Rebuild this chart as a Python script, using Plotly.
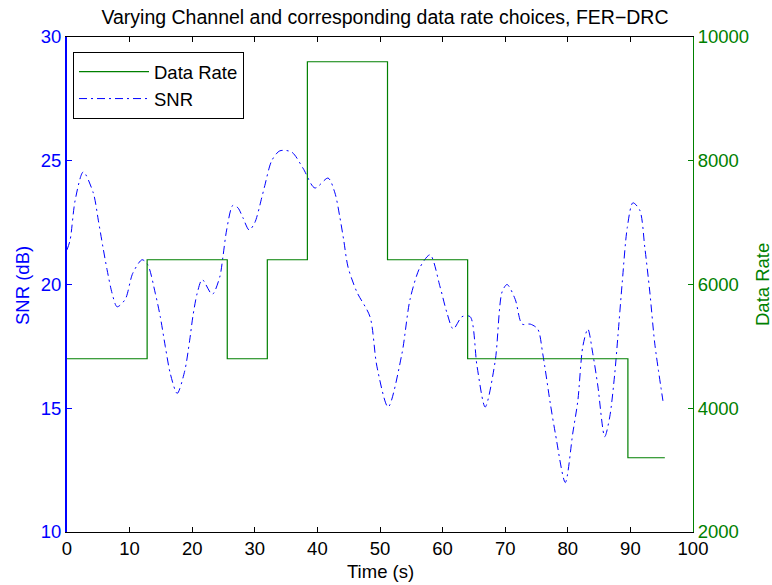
import plotly.graph_objects as go

# Data Rate steps (time of step start, value)
rate_t = [0, 12.8, 25.6, 32.0, 38.4, 51.2, 64.0, 89.6, 95.5]
rate_v = [4800, 6400, 4800, 6400, 9600, 6400, 4800, 3200, 3200]

# SNR curve samples
snr_t = [0, 0.5, 1.3, 2.6, 4.2, 5.0, 5.75, 6.4, 7.2, 8.0, 9.3, 10.5, 12.0, 12.9, 14.1,
         14.9, 15.7, 16.5, 17.6, 18.8, 19.6, 20.1, 20.8, 21.6, 23.2, 24.4, 24.9, 25.5,
         26.5, 27.3, 28.1, 29.1, 30.0, 31.1, 31.6, 32.7, 34.0, 35.9, 37.7, 39.6, 41.7,
         42.8, 43.6, 44.2, 44.9, 46.3, 48.4, 49.5, 51.3, 53.5, 54.8, 56.4, 58.0, 59.6,
         60.7, 61.7, 63.1, 64.4, 65.5, 66.8, 68.4, 69.5, 70.3, 71.6, 72.7, 74.0, 75.2,
         76.0, 77.2, 78.0, 79.6, 80.8, 81.6, 82.4, 83.2, 84.0, 84.8, 85.9, 86.7, 87.5,
         88.0, 88.7, 89.5, 90.4, 91.5, 92.3, 93.1, 93.9, 95.2]
snr_v = [21.4, 21.8, 23.4, 24.55, 23.7, 22.6, 21.5, 20.6, 19.65, 19.1, 19.4, 20.45, 21.0, 20.8, 19.65,
         18.7, 17.5, 16.4, 15.6, 16.5, 17.75, 18.7, 19.65, 20.2, 19.6, 20.3, 21.1, 22.2,
         23.2, 23.1, 22.7, 22.2, 22.5, 23.5, 24.0, 25.0, 25.4, 25.35, 24.7, 23.9, 24.3,
         23.7, 22.7, 21.8, 20.7, 19.7, 18.7, 16.7, 15.05, 17.2, 19.4, 20.7, 21.2, 19.9,
         18.85, 18.2, 18.7, 18.7, 16.7, 15.05, 16.9, 19.7, 20.0, 19.4, 18.4, 18.4, 18.2,
         17.2, 15.2, 14.0, 12.0, 14.0, 15.3, 17.5, 18.2, 17.2, 15.9, 13.85, 14.65, 16.4,
         17.9, 20.1, 22.3, 23.3, 23.0, 21.5, 19.7, 17.6, 15.3]

FONT = "Liberation Sans, Arial, sans-serif"
BLUE = "#0000FF"
GREEN = "#008000"
FS = 18.5

# plot area in pixels
L, R, T, B = 67, 693, 37, 532
W, H = R - L, B - T


def px(x):
    return (x - L) / W


def py(y):
    return (B - y) / H


fig = go.Figure()
fig.add_trace(go.Scatter(
    x=snr_t, y=snr_v, name="SNR", mode="lines", yaxis="y",
    line=dict(color=BLUE, width=1, dash="8px,4px,2px,4px", shape="spline", smoothing=0.8),
    legendrank=2))
fig.add_trace(go.Scatter(
    x=rate_t, y=rate_v, name="Data Rate", mode="lines", yaxis="y2",
    line=dict(color=GREEN, width=1.2, shape="hv"),
    legendrank=1))

fig.update_layout(
    width=772, height=585,
    margin=dict(l=L, r=772 - R, t=T, b=585 - B),
    paper_bgcolor="white", plot_bgcolor="white",
    font=dict(family=FONT, size=FS, color="black"),
    title=dict(text="Varying Channel and corresponding data rate choices, FER\u2212DRC",
               x=385 / 772, xanchor="center", y=1 - 17 / 585, yanchor="middle",
               font=dict(size=19.5, color="black")),
    xaxis=dict(range=[0, 100], tickvals=list(range(0, 101, 10)),
               showline=True, linecolor="black", linewidth=1, mirror="ticks",
               ticks="inside", ticklen=5, tickcolor="black",
               showgrid=False, zeroline=False, automargin=False,
               tickfont=dict(size=FS)),
    yaxis=dict(range=[10, 30], tickvals=[10, 15, 20, 25, 30],
               showline=True, linecolor=BLUE, linewidth=2,
               ticks="inside", ticklen=5, tickcolor=BLUE,
               showgrid=False, zeroline=False, automargin=False,
               tickfont=dict(size=FS, color=BLUE)),
    yaxis2=dict(range=[2000, 10000], tickvals=[2000, 4000, 6000, 8000, 10000],
                tickformat="d",
                overlaying="y", side="right",
                showline=True, linecolor=GREEN, linewidth=1,
                ticks="inside", ticklen=5, tickcolor=GREEN,
                showgrid=False, zeroline=False, automargin=False,
                tickfont=dict(size=FS, color=GREEN)),
    legend=dict(x=px(73), y=py(52),
                xref="paper", yref="paper",
                xanchor="left", yanchor="top",
                bgcolor="white", bordercolor="black", borderwidth=1,
                font=dict(size=FS, color="black"), tracegroupgap=0,
                itemwidth=70),
    showlegend=True,
    annotations=[
        dict(text="Time (s)", x=px(380), y=py(571), xref="paper", yref="paper",
             xanchor="center", yanchor="middle", showarrow=False,
             font=dict(size=FS, color="black")),
        dict(text="SNR (dB)", x=px(22), y=py(286), xref="paper", yref="paper",
             xanchor="center", yanchor="middle", showarrow=False, textangle=-90,
             font=dict(size=FS, color=BLUE)),
        dict(text="Data Rate", x=px(762), y=py(285), xref="paper", yref="paper",
             xanchor="center", yanchor="middle", showarrow=False, textangle=-90,
             font=dict(size=FS, color=GREEN)),
    ],
)

fig.write_html("out.html")
